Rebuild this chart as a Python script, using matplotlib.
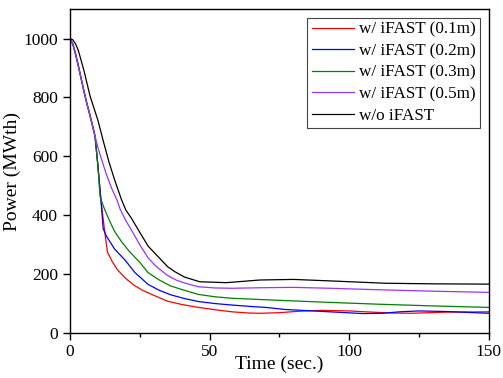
import matplotlib
matplotlib.use("Agg")
import matplotlib.pyplot as plt
from matplotlib.ticker import MultipleLocator

plt.rcParams["font.family"] = ["Liberation Serif", "DejaVu Serif"]

# common early part of the transient (all iFAST cases)
t_common = [0, 1, 2, 3, 4, 5, 6, 7, 8, 9]
p_common = [1000, 982, 948, 908, 865, 822, 782, 746, 708, 668]

# w/ iFAST (0.1m)
t_01 = t_common + [10, 11.1, 12.2, 13.4, 15, 17, 20, 23, 26, 30, 35, 40, 46, 52,
                   58, 64, 68, 75, 82, 90, 100, 108, 115, 122, 135, 150]
p_01 = p_common + [570, 452, 365, 276, 245, 215, 185, 162, 145, 128, 108, 97, 87, 79,
                   72, 68, 67, 69, 74, 77, 75, 71, 68, 67, 71, 72]

# w/ iFAST (0.2m)
t_02 = t_common + [10, 11.1, 11.9, 13, 16, 19.7, 23.3, 28, 32, 36, 41, 46, 52, 58,
                   65, 70, 77, 85, 95, 105, 112, 118, 125, 135, 150]
p_02 = p_common + [570, 452, 355, 330, 285, 248, 205, 165, 145, 130, 117, 107, 100, 95,
                   90, 87, 80, 76, 71, 66, 67, 72, 75, 73, 67]

# w/ iFAST (0.3m)
t_03 = t_common + [10, 10.8, 12, 14, 16, 18.5, 21, 25, 28, 32, 36, 40, 46, 52, 58,
                   70, 80, 93, 110, 130, 150]
p_03 = p_common + [570, 463, 430, 385, 345, 310, 280, 240, 205, 180, 160, 148, 131, 123, 118,
                   113, 109, 104, 98, 92, 87]

# w/ iFAST (0.5m)
t_05 = t_common + [10, 11.5, 13, 15, 17, 18, 20, 22, 25, 28, 31, 35, 38, 41, 46, 52,
                   58, 70, 80, 93, 110, 130, 150]
p_05 = p_common + [630, 585, 540, 490, 448, 420, 382, 350, 300, 255, 225, 195, 180, 170, 157, 153,
                   152, 154, 155, 152, 147, 142, 138]

# w/o iFAST
t_wo = [0, 1, 2, 3, 5, 7.2, 10, 12, 14, 16, 18.5, 20, 22, 24.5, 28, 31.6, 35, 37.6, 41,
        46.5, 56, 68, 80, 93, 113, 130, 150]
p_wo = [1000, 996, 982, 960, 892, 805, 723, 650, 580, 520, 452, 418, 390, 350, 295, 259, 225, 208, 190,
        174, 171, 180, 182, 177, 169, 167, 166]

series = [
    (t_01, p_01, "#ff0000", "w/ iFAST (0.1m)"),
    (t_02, p_02, "#0000ff", "w/ iFAST (0.2m)"),
    (t_03, p_03, "#008000", "w/ iFAST (0.3m)"),
    (t_05, p_05, "#9933ff", "w/ iFAST (0.5m)"),
    (t_wo, p_wo, "#000000", "w/o iFAST"),
]

fig = plt.figure(figsize=(5.03, 3.78), dpi=100)
ax = fig.add_axes([0.139, 0.119, 0.833, 0.857])

for t, p, c, lab in series:
    ax.plot(t, p, color=c, lw=0.9, label=lab)

ax.set_xlim(0, 150)
ax.set_ylim(0, 1100)
ax.xaxis.set_major_locator(MultipleLocator(50))
ax.xaxis.set_minor_locator(MultipleLocator(25))
ax.yaxis.set_major_locator(MultipleLocator(200))
ax.tick_params(which="major", direction="out", length=5, width=1, labelsize=12.5)
ax.tick_params(which="minor", direction="out", length=3, width=1)
ax.tick_params(axis="x", pad=3)
for s in ax.spines.values():
    s.set_linewidth(1)

ax.set_xlabel("Time (sec.)", fontsize=14, labelpad=-3)
ax.set_ylabel("Power (MWth)", fontsize=14, labelpad=2)

leg = ax.legend(loc="upper right", fontsize=12.3, fancybox=False, framealpha=1,
                edgecolor="#444444", handlelength=2.5, handletextpad=0.3,
                labelspacing=0.32, borderpad=0.25, borderaxespad=0.5)
leg.get_frame().set_linewidth(0.8)

fig.savefig("out.png", dpi=100)
